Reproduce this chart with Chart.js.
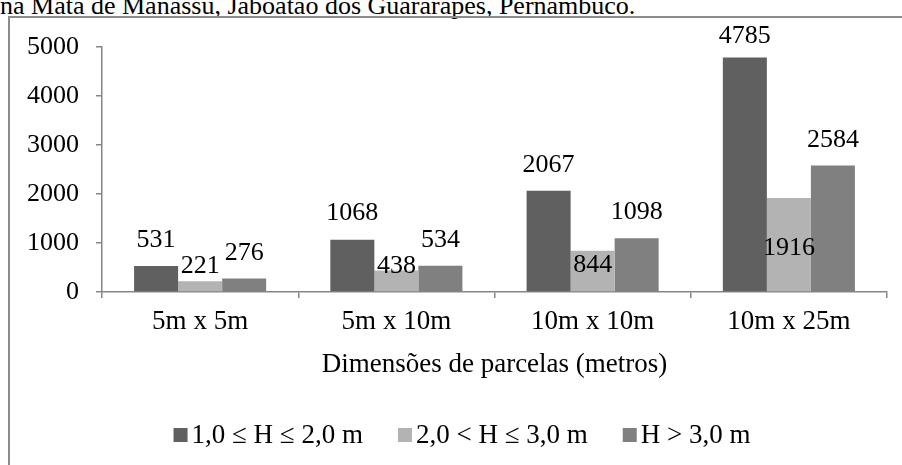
<!DOCTYPE html>
<html>
<head>
<meta charset="utf-8">
<script src="https://cdn.jsdelivr.net/npm/chart.js@4.4.1/dist/chart.umd.min.js"></script>
<style>
  html, body { margin: 0; padding: 0; background: #fff; overflow: hidden; }
  body { width: 902px; height: 465px; position: relative; font-family: 'Liberation Serif', 'Times New Roman', serif; }
  #caption { position: absolute; left: 0; top: -7px; font-size: 26px; line-height: 26px; white-space: nowrap; color: #000; }
  #frame { position: absolute; left: 8px; top: 16px; width: 1000px; height: 600px; border-left: 2px solid #8c8c8c; border-top: 2px solid #8c8c8c; }
  #wrap { position: absolute; left: 0; top: 0; width: 902px; height: 465px; }
</style>
</head>
<body>
<div id="caption">na Mata de Manassu, Jaboatão dos Guararapes, Pernambuco.</div>
<div id="frame"></div>
<div id="wrap"><canvas id="chart"></canvas></div>
<script>
const categories = ['5m x 5m', '5m x 10m', '10m x 10m', '10m x 25m'];
const seriesNames = ['1,0 ≤ H ≤ 2,0 m', '2,0 < H ≤ 3,0 m', 'H > 3,0 m'];
const lowValues = [531, 1068, 2067, 4785];
const midValues = [221, 438, 844, 1916];
const highValues = [276, 534, 1098, 2584];
const yTicks = [0, 1000, 2000, 3000, 4000, 5000];

// how far above the bar top each value label sits (px), the light series labels were pushed down in the original
const labelLift = [
  [26, 26, 26, 21],
  [15, 4, -15, -50],
  [25, 26, 26, 25]
];

const serif = "'Liberation Serif', 'Times New Roman', serif";
const axisGray = '#868686';

const valueLabels = {
  id: 'valueLabels',
  afterDatasetsDraw(chart) {
    const ctx = chart.ctx;
    ctx.save();
    ctx.font = '26px ' + serif;
    ctx.fillStyle = '#000';
    ctx.textAlign = 'center';
    ctx.textBaseline = 'middle';
    chart.data.datasets.forEach((ds, i) => {
      chart.getDatasetMeta(i).data.forEach((bar, j) => {
        ctx.fillText(String(ds.data[j]), bar.x, bar.y - labelLift[i][j]);
      });
    });
    ctx.restore();
  }
};

// legend drawn by hand: the original has a tight gap between swatch and text
const boxLegend = {
  id: 'boxLegend',
  afterDraw(chart) {
    const ctx = chart.ctx;
    const box = 14, gap = 4, spacing = 35, centerX = 462, baseY = 443;
    ctx.save();
    ctx.font = '27px ' + serif;
    ctx.textBaseline = 'alphabetic';
    ctx.textAlign = 'left';
    const items = chart.data.datasets.map(ds => ({ text: ds.label, color: ds.backgroundColor, w: ctx.measureText(ds.label).width }));
    const total = items.reduce((s, it) => s + box + gap + it.w, 0) + spacing * (items.length - 1);
    let x = centerX - total / 2;
    items.forEach(it => {
      ctx.fillStyle = it.color;
      ctx.fillRect(x, baseY - 15, box, box);
      ctx.fillStyle = '#000';
      ctx.fillText(it.text, x + box + gap, baseY);
      x += box + gap + it.w + spacing;
    });
    ctx.restore();
  }
};

new Chart(document.getElementById('chart'), {
  type: 'bar',
  data: {
    labels: categories,
    datasets: [
      { label: seriesNames[0], data: lowValues, backgroundColor: '#606060' },
      { label: seriesNames[1], data: midValues, backgroundColor: '#b3b3b3' },
      { label: seriesNames[2], data: highValues, backgroundColor: '#808080' }
    ]
  },
  options: {
    responsive: true,
    maintainAspectRatio: false,
    animation: false,
    categoryPercentage: 0.673,
    barPercentage: 1.0,
    layout: { padding: { left: 0, right: 15, top: 47, bottom: 83 } },
    plugins: {
      legend: { display: false },
      tooltip: { enabled: false }
    },
    scales: {
      x: {
        grid: { display: true, drawOnChartArea: false, drawTicks: true, tickLength: 6, color: axisGray, lineWidth: 1.5 },
        border: { color: axisGray, width: 1.5 },
        ticks: { color: '#000', font: { family: serif, size: 27 }, padding: 8, maxRotation: 0 },
        title: { display: true, text: 'Dimensões de parcelas (metros)', color: '#000', font: { family: serif, size: 27 }, padding: { top: 0, bottom: 1 } },
        afterFit(scale) { scale.height = 90; }
      },
      y: {
        min: 0,
        max: 5000,
        afterBuildTicks(scale) { scale.ticks = yTicks.map(v => ({ value: v })); },
        grid: { display: true, drawOnChartArea: false, drawTicks: true, tickLength: 6, color: axisGray, lineWidth: 1.5 },
        border: { color: axisGray, width: 1.5 },
        ticks: { color: '#000', font: { family: serif, size: 26 }, padding: 17, callback: v => String(v) },
        afterFit(scale) { scale.width = 102; }
      }
    }
  },
  plugins: [valueLabels, boxLegend]
});
</script>
</body>
</html>
